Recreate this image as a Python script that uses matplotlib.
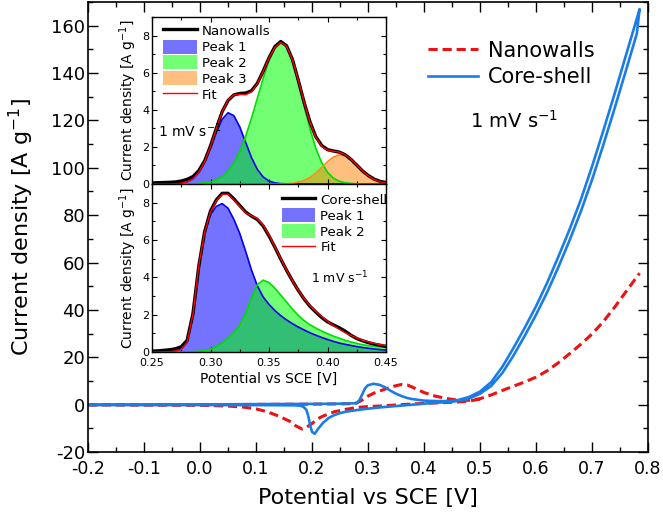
import numpy as np
import matplotlib.pyplot as plt
from matplotlib.ticker import MultipleLocator, FormatStrFormatter

plt.rcParams['font.family'] = 'DejaVu Sans'
plt.rcParams['mathtext.default'] = 'regular'
plt.rcParams['axes.unicode_minus'] = False

# ---- main CV curves: potential [V] vs current density [A/g] ----
# core-shell, anodic sweep
cs_up_v = [-0.20, -0.10, 0.00, 0.10, 0.20, 0.25, 0.28, 0.285, 0.29, 0.295, 0.30, 0.31, 0.32, 0.33,
           0.34, 0.35, 0.36, 0.37, 0.38, 0.40, 0.42, 0.44, 0.46, 0.48, 0.50, 0.52, 0.54, 0.56,
           0.58, 0.60, 0.62, 0.64, 0.66, 0.68, 0.70, 0.72, 0.74, 0.76, 0.78, 0.785]
cs_up_i = [0.0, 0.0, 0.1, 0.2, 0.3, 0.4, 0.6, 2.0, 4.5, 7.0, 8.2, 8.8, 8.4, 7.4,
           5.9, 4.6, 3.6, 2.8, 2.3, 1.7, 1.5, 1.5, 1.9, 3.2, 5.5, 9.5, 16.0, 24.0,
           32.5, 41.5, 51.5, 62.5, 74.0, 86.5, 100.5, 115.5, 131.0, 147.0, 163.0, 167.0]
# core-shell, cathodic sweep
cs_down_v = [0.785, 0.78, 0.76, 0.74, 0.72, 0.70, 0.68, 0.66, 0.64, 0.62, 0.60, 0.58, 0.56, 0.54,
             0.52, 0.50, 0.48, 0.46, 0.44, 0.42, 0.40, 0.38, 0.36, 0.34, 0.32, 0.30, 0.28, 0.26,
             0.25, 0.24, 0.23, 0.22, 0.21, 0.205, 0.20, 0.197, 0.193, 0.19, 0.185, 0.18, 0.17,
             0.10, 0.00, -0.10, -0.20]
cs_down_i = [167.0, 156.6, 140.6, 124.8, 109.5, 94.9, 81.5, 69.4, 58.1, 47.5, 37.9, 29.1, 20.8, 13.4,
             7.9, 4.6, 2.5, 1.5, 1.0, 0.8, 0.4, 0.0, -0.4, -0.8, -1.2, -1.7, -2.3, -3.0,
             -3.6, -4.4, -5.6, -7.6, -10.5, -12.3, -11.5, -9.0, -4.5, -2.2, -1.0, -0.5, -0.3,
             -0.2, -0.2, -0.2, -0.2]

# nanowalls, anodic sweep
nw_up_v = [-0.20, -0.10, 0.00, 0.10, 0.20, 0.25, 0.27, 0.28, 0.29, 0.30, 0.31, 0.32, 0.33, 0.34,
           0.35, 0.36, 0.37, 0.38, 0.39, 0.40, 0.42, 0.44, 0.46, 0.48, 0.50, 0.52, 0.54, 0.56,
           0.58, 0.60, 0.62, 0.64, 0.66, 0.68, 0.70, 0.72, 0.74, 0.76, 0.785]
nw_up_i = [0.0, 0.0, 0.0, 0.1, 0.2, 0.3, 0.4, 0.7, 2.0, 3.6, 4.8, 5.7, 6.5, 7.3,
           8.0, 8.5, 8.3, 7.3, 6.2, 5.1, 3.6, 2.6, 1.9, 1.8, 2.5, 4.1, 6.0, 7.8,
           9.6, 11.6, 14.3, 17.7, 21.5, 25.5, 29.8, 35.0, 41.0, 47.5, 55.5]
# nanowalls, cathodic sweep (above 0.5 V it lies on the anodic one)
nw_down_v = [0.50, 0.48, 0.46, 0.44, 0.42, 0.40, 0.38, 0.36, 0.34, 0.32, 0.30, 0.28, 0.26, 0.24,
             0.22, 0.21, 0.20, 0.19, 0.182, 0.17, 0.16, 0.14, 0.12, 0.10, 0.08, 0.05, 0.00,
             -0.10, -0.20]
nw_down_i = [2.3, 1.5, 1.1, 0.9, 0.7, 0.5, 0.3, 0.0, -0.3, -0.6, -0.8, -1.2, -2.0, -3.0,
             -4.8, -6.0, -8.0, -9.6, -10.3, -8.8, -7.0, -4.8, -3.0, -1.8, -1.1, -0.6, -0.3,
             -0.2, -0.1]

# ---- insets: peak deconvolution, sampled every 5 mV from 0.25 to 0.45 V ----
inset_v = np.linspace(0.25, 0.45, 41)

nw_data = [0.06, 0.07, 0.08, 0.09, 0.11, 0.16, 0.25, 0.40, 0.72, 1.25, 2.05, 3.00, 3.90, 4.50,
           4.80, 4.88, 4.90, 5.02, 5.42, 6.08, 6.80, 7.40, 7.68, 7.45, 6.72, 5.60, 4.40, 3.35,
           2.55, 2.08, 1.85, 1.78, 1.72, 1.58, 1.33, 1.02, 0.70, 0.45, 0.26, 0.14, 0.08]
nw_peak1 = [0.00, 0.00, 0.00, 0.00, 0.01, 0.04, 0.11, 0.27, 0.60, 1.15, 1.91, 2.76, 3.49, 3.84,
            3.68, 3.08, 2.25, 1.43, 0.79, 0.38, 0.16, 0.06, 0.02, 0.01, 0.00, 0.00, 0.00, 0.00,
            0.00, 0.00, 0.00, 0.00, 0.00, 0.00, 0.00, 0.00, 0.00, 0.00, 0.00, 0.00, 0.00]
nw_peak2 = [0.00, 0.00, 0.00, 0.00, 0.00, 0.00, 0.00, 0.01, 0.03, 0.06, 0.11, 0.22, 0.40, 0.69,
            1.13, 1.75, 2.56, 3.53, 4.61, 5.69, 6.63, 7.30, 7.60, 7.40, 6.66, 5.52, 4.22, 2.97,
            1.93, 1.15, 0.63, 0.32, 0.15, 0.07, 0.03, 0.01, 0.00, 0.00, 0.00, 0.00, 0.00]
nw_peak3 = [0.00, 0.00, 0.00, 0.00, 0.00, 0.00, 0.00, 0.00, 0.00, 0.00, 0.00, 0.00, 0.00, 0.00,
            0.00, 0.00, 0.00, 0.00, 0.00, 0.00, 0.00, 0.00, 0.01, 0.01, 0.04, 0.09, 0.19, 0.35,
            0.59, 0.89, 1.20, 1.45, 1.57, 1.52, 1.31, 1.02, 0.70, 0.44, 0.24, 0.12, 0.05]

cs_data = [0.05, 0.06, 0.09, 0.12, 0.17, 0.28, 0.62, 2.05, 4.60, 6.45, 7.55, 8.15, 8.50, 8.50,
           8.20, 7.85, 7.50, 7.28, 7.10, 6.75, 6.22, 5.62, 4.98, 4.38, 3.82, 3.30, 2.84, 2.45,
           2.14, 1.85, 1.62, 1.45, 1.30, 1.12, 0.90, 0.72, 0.60, 0.50, 0.42, 0.36, 0.30]
cs_peak1 = [0.00, 0.00, 0.01, 0.02, 0.05, 0.15, 0.50, 2.00, 4.60, 6.35, 7.35, 7.80, 7.95, 7.70,
            7.10, 6.35, 5.40, 4.40, 3.55, 2.95, 2.55, 2.22, 1.95, 1.72, 1.52, 1.34, 1.18, 1.03,
            0.90, 0.78, 0.67, 0.57, 0.48, 0.41, 0.35, 0.29, 0.24, 0.20, 0.16, 0.13, 0.10]
cs_peak2 = [0.00, 0.00, 0.00, 0.00, 0.00, 0.00, 0.01, 0.02, 0.04, 0.08, 0.15, 0.30, 0.50, 0.75,
            1.05, 1.45, 2.05, 2.90, 3.60, 3.85, 3.72, 3.42, 3.05, 2.68, 2.30, 1.96, 1.68, 1.46,
            1.28, 1.12, 0.98, 0.85, 0.74, 0.63, 0.54, 0.46, 0.39, 0.34, 0.30, 0.27, 0.24]

red = '#ee1111'
blue = '#1a7de6'

fig = plt.figure(figsize=(6.63, 5.18), dpi=100)
ax = fig.add_axes([88 / 663, 66 / 518, 560 / 663, 450 / 518])

dash = (0, (3, 1.6))
l1, = ax.plot(nw_up_v, nw_up_i, color=red, lw=2.2, ls=dash, label='Nanowalls')
ax.plot(nw_down_v, nw_down_i, color=red, lw=2.2, ls=dash)
l2, = ax.plot(np.concatenate([cs_up_v, cs_down_v]), np.concatenate([cs_up_i, cs_down_i]),
              color=blue, lw=1.9, label='Core-shell')

ax.set_xlim(-0.2, 0.8)
ax.set_ylim(-20, 170)
ax.xaxis.set_major_locator(MultipleLocator(0.1))
ax.xaxis.set_minor_locator(MultipleLocator(0.05))
ax.yaxis.set_major_locator(MultipleLocator(20))
ax.yaxis.set_minor_locator(MultipleLocator(10))
ax.xaxis.set_major_formatter(FormatStrFormatter('%.1f'))
ax.tick_params(which='both', direction='in', top=True, right=True, width=1)
ax.tick_params(which='major', length=7, labelsize=13)
ax.tick_params(axis='x', which='major', labelsize=12.5, pad=6)
ax.tick_params(axis='y', which='major', pad=2)
ax.tick_params(which='minor', length=3.5)
for s in ax.spines.values():
    s.set_linewidth(1.2)
ax.set_xlabel('Potential vs SCE [V]', fontsize=16, labelpad=7)
ax.set_ylabel('Current density [A g$^{-1}$]', fontsize=16, labelpad=11)

ax.legend(handles=[l1, l2], loc='upper left', bbox_to_anchor=(0.589, 0.937), frameon=False,
          fontsize=15, handlelength=2.4, handletextpad=0.45, labelspacing=0.3, borderpad=0)
ax.text(0.482, 120, '1 mV s$^{-1}$', fontsize=14, va='center', ha='left')


def style_inset(a):
    a.set_xlim(0.25, 0.45)
    a.set_ylim(0, 9)
    a.xaxis.set_major_locator(MultipleLocator(0.05))
    a.xaxis.set_minor_locator(MultipleLocator(0.025))
    a.yaxis.set_major_locator(MultipleLocator(2))
    a.yaxis.set_minor_locator(MultipleLocator(1))
    a.xaxis.set_major_formatter(FormatStrFormatter('%.2f'))
    a.tick_params(which='both', direction='in', top=True, right=True, width=0.8, labelsize=8, pad=2)
    a.tick_params(axis='x', which='major', pad=4)
    a.tick_params(which='major', length=3.5)
    a.tick_params(which='minor', length=2)
    for s in a.spines.values():
        s.set_linewidth(1.0)
    a.set_ylabel('Current density [A g$^{-1}$]', fontsize=10, labelpad=2)


p1_fill = dict(color=(0, 0, 1), alpha=0.55, lw=0)
p2_fill = dict(color=(0, 1, 0), alpha=0.55, lw=0)
p3_fill = dict(color=(1, 0.5, 0), alpha=0.5, lw=0)

# top inset: nanowalls
axt = fig.add_axes([152 / 663, 334 / 518, 234 / 663, 167 / 518])
nw_fit = np.array(nw_peak1) + np.array(nw_peak2) + np.array(nw_peak3)
f1 = axt.fill_between(inset_v, 0, nw_peak1, label='Peak 1', **p1_fill)
axt.plot(inset_v, nw_peak1, color='#0000ee', lw=1.2)
f2 = axt.fill_between(inset_v, 0, nw_peak2, label='Peak 2', **p2_fill)
axt.plot(inset_v, nw_peak2, color='#00dd00', lw=1.2)
f3 = axt.fill_between(inset_v, 0, nw_peak3, label='Peak 3', **p3_fill)
axt.plot(inset_v, nw_peak3, color='#ff8c1a', lw=1.2)
d1, = axt.plot(inset_v, nw_data, color='black', lw=2.4, label='Nanowalls')
r1, = axt.plot(inset_v, nw_fit, color='red', lw=1.0, label='Fit')
style_inset(axt)
axt.tick_params(labelbottom=False)
axt.legend(handles=[d1, f1, f2, f3, r1], loc='upper left', bbox_to_anchor=(0.02, 1.0),
           frameon=False, fontsize=9.6, handlelength=2.5, handleheight=1.25,
           handletextpad=0.4, labelspacing=0.1, borderpad=0)
axt.text(0.026, 0.32, '1 mV s$^{-1}$', transform=axt.transAxes, fontsize=10, va='center')

# bottom inset: core-shell
axb = fig.add_axes([152 / 663, 166 / 518, 234 / 663, 168 / 518])
cs_fit = np.array(cs_peak1) + np.array(cs_peak2)
g1 = axb.fill_between(inset_v, 0, cs_peak1, label='Peak 1', **p1_fill)
axb.plot(inset_v, cs_peak1, color='#0000ee', lw=1.2)
g2 = axb.fill_between(inset_v, 0, cs_peak2, label='Peak 2', **p2_fill)
axb.plot(inset_v, cs_peak2, color='#00dd00', lw=1.2)
d2, = axb.plot(inset_v, cs_data, color='black', lw=2.4, label='Core-shell')
r2, = axb.plot(inset_v, cs_fit, color='red', lw=1.0, label='Fit')
style_inset(axb)
axb.set_xlabel('Potential vs SCE [V]', fontsize=10, labelpad=3)
axb.legend(handles=[d2, g1, g2, r2], loc='upper left', bbox_to_anchor=(0.526, 0.99),
           frameon=False, fontsize=9.6, handlelength=2.5, handleheight=1.25,
           handletextpad=0.4, labelspacing=0.1, borderpad=0)
axb.text(0.68, 0.44, '1 mV s$^{-1}$', transform=axb.transAxes, fontsize=9, va='center')

fig.savefig('out.png', dpi=100)
